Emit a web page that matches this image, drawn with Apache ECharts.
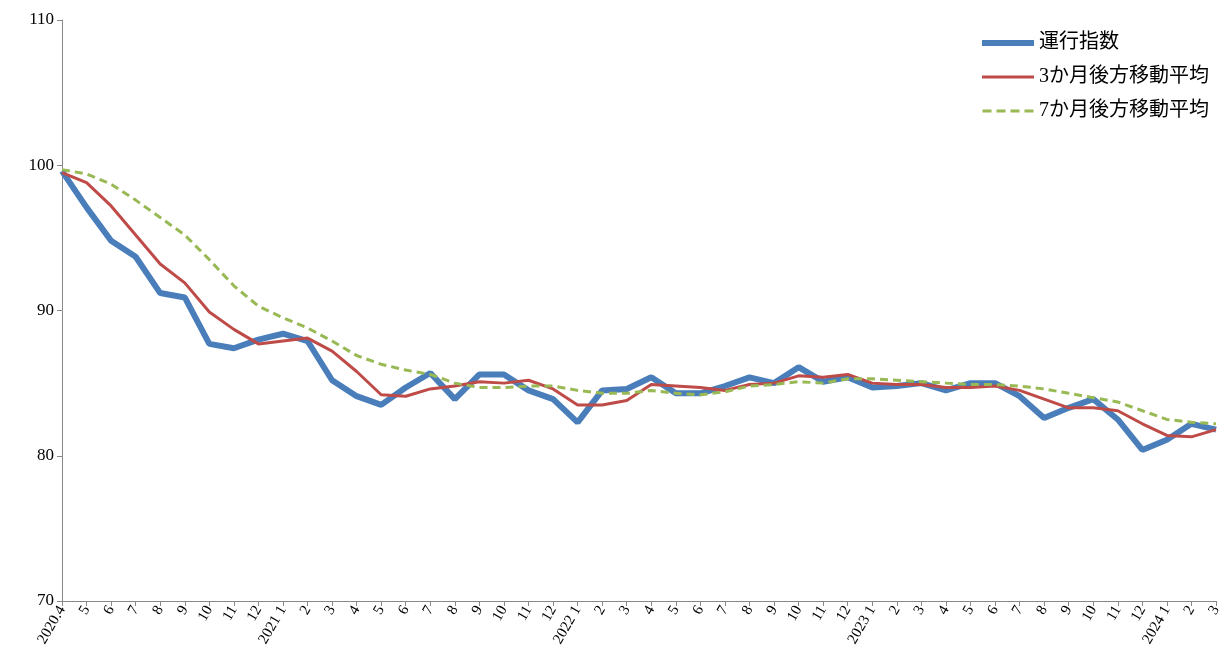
<!DOCTYPE html>
<html><head><meta charset="utf-8">
<script src="https://cdn.jsdelivr.net/npm/echarts@6/dist/echarts.min.js"></script>
<style>html,body{margin:0;padding:0;background:#fff}#c{width:1224px;height:669px}</style>
</head><body><div id="c"></div>
<script>
var months = ['2020.4','5','6','7','8','9','10','11','12',
  '2021 1','2','3','4','5','6','7','8','9','10','11','12',
  '2022 1','2','3','4','5','6','7','8','9','10','11','12',
  '2023 1','2','3','4','5','6','7','8','9','10','11','12',
  '2024 1','2','3'];
var index = [99.6,97.1,94.8,93.7,91.2,90.9,87.7,87.4,88.0,88.4,87.9,85.2,84.1,83.5,84.7,85.7,83.9,85.6,85.6,84.5,83.9,82.3,84.5,84.6,85.4,84.3,84.3,84.8,85.4,85.0,86.1,85.1,85.4,84.7,84.8,85.0,84.5,85.0,85.0,84.1,82.6,83.3,83.9,82.5,80.4,81.1,82.2,81.8];
var avg3 = [99.5,98.8,97.2,95.2,93.2,91.9,89.9,88.7,87.7,87.9,88.1,87.2,85.8,84.2,84.1,84.6,84.8,85.1,85.0,85.2,84.6,83.5,83.5,83.8,84.9,84.8,84.7,84.5,84.9,85.0,85.5,85.4,85.6,85.0,84.9,84.9,84.7,84.7,84.8,84.5,83.9,83.3,83.3,83.1,82.2,81.4,81.3,81.8];
var avg7 = [99.7,99.4,98.7,97.6,96.4,95.2,93.5,91.7,90.3,89.5,88.8,87.9,86.9,86.3,85.9,85.6,85.0,84.7,84.7,84.8,84.8,84.5,84.3,84.3,84.5,84.3,84.2,84.4,84.8,84.9,85.1,85.0,85.3,85.3,85.2,85.1,85.0,84.9,84.9,84.8,84.6,84.3,84.0,83.7,83.1,82.5,82.3,82.2];

// legend icons: bounding dots keep the box 52x12 so the bar thickness stays true
var box = 'M0,0H0.05V0.05H0ZM0,12H0.05V11.95H0Z';
var iconThick = 'path://' + box + 'M0,3H52V9H0Z';
var iconThin = 'path://' + box + 'M0,4.5H52V7.5H0Z';
var iconDash = 'path://' + box + 'M0,4.5H9V7.5H0ZM14,4.5H23V7.5H14ZM28,4.5H37V7.5H28ZM42,4.5H51V7.5H42Z';

var chart = echarts.init(document.getElementById('c'));
var font = '"Liberation Serif","Noto Sans CJK JP",serif';
chart.setOption({
  animation: false,
  textStyle: {fontFamily: font, color: '#000'},
  grid: {left: 62, right: 6, top: 20, bottom: 68},
  legend: {
    orient: 'vertical', right: 10, top: 28, itemGap: 14, itemWidth: 52, itemHeight: 12,
    textStyle: {fontSize: 20, fontFamily: font, color: '#000'},
    data: [
      {name: '運行指数', icon: iconThick},
      {name: '3か月後方移動平均', icon: iconThin},
      {name: '7か月後方移動平均', icon: iconDash}
    ]
  },
  xAxis: {
    type: 'category', data: months, boundaryGap: false,
    axisLine: {lineStyle: {color: '#888'}},
    axisTick: {show: true, interval: 0, lineStyle: {color: '#888'}},
    axisLabel: {interval: 0, rotate: 60, fontSize: 15, color: '#000', margin: 6}
  },
  yAxis: {
    type: 'value', min: 70, max: 110, interval: 10,
    splitLine: {show: false},
    axisLine: {show: true, lineStyle: {color: '#888'}},
    axisTick: {show: true, lineStyle: {color: '#888'}},
    axisLabel: {fontSize: 17, color: '#000'}
  },
  series: [
    {name: '運行指数', type: 'line', data: index, showSymbol: false, symbol: 'none',
     lineStyle: {width: 6, color: '#4a7ebb'}, itemStyle: {color: '#4a7ebb'}},
    {name: '3か月後方移動平均', type: 'line', data: avg3, showSymbol: false, symbol: 'none',
     lineStyle: {width: 3, color: '#be4b48'}, itemStyle: {color: '#be4b48'}},
    {name: '7か月後方移動平均', type: 'line', data: avg7, showSymbol: false, symbol: 'none',
     lineStyle: {width: 3, color: '#98b954', type: [8, 5]}, itemStyle: {color: '#98b954'}}
  ]
});
</script></body></html>
